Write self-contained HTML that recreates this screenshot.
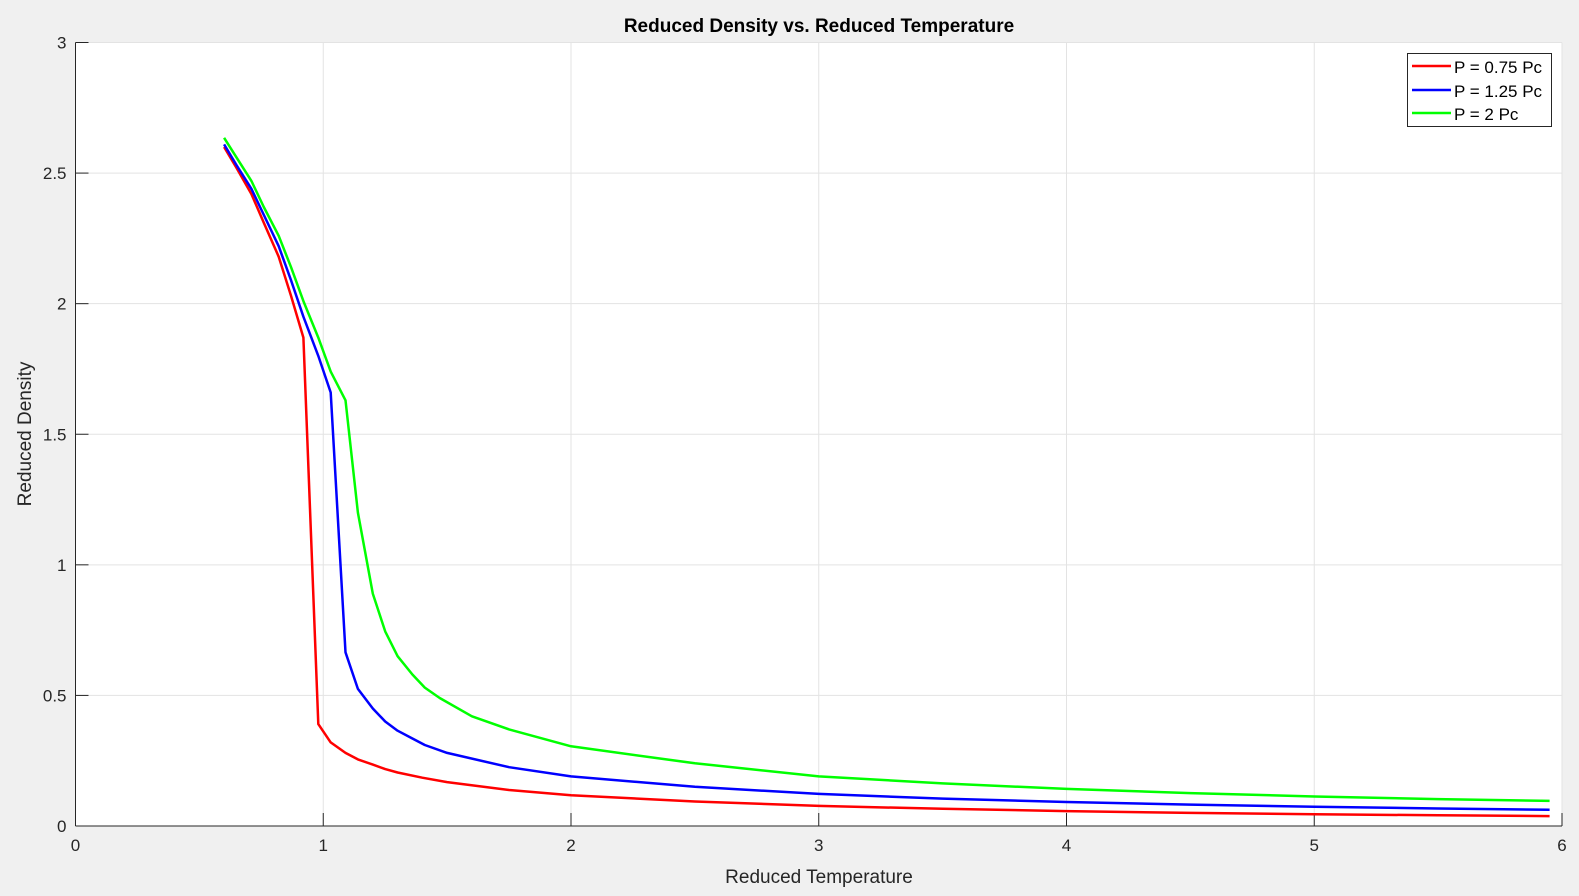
<!DOCTYPE html>
<html><head><meta charset="utf-8"><style>
body{margin:0;background:#f0f0f0;font-family:"Liberation Sans",Arial,sans-serif;}
svg{display:block}
</style></head><body>
<svg id="chart" width="1579" height="896">
<rect width="1579" height="896" fill="#f0f0f0"/>
<rect x="75.5" y="42.5" width="1486.5" height="783.5" fill="#fff"/>
<g id="grid"></g><g id="axes"></g><g id="lines"></g>
<text x="819" y="32" text-anchor="middle" font-size="19" font-weight="bold" fill="#000">Reduced Density vs. Reduced Temperature</text>
<text x="819" y="883" text-anchor="middle" font-size="19" fill="#262626">Reduced Temperature</text>
<text transform="translate(31,434) rotate(-90)" text-anchor="middle" font-size="19" fill="#262626">Reduced Density</text>
<g>
<rect x="1407.5" y="53.5" width="144" height="73" fill="#fff" stroke="#262626" stroke-width="1"/>
<g><line x1="1412" y1="66" x2="1451" y2="66" stroke="#f00" stroke-width="2.5"/><text x="1454" y="73" font-size="17" fill="#000">P = 0.75 Pc</text></g>
<g><line x1="1412" y1="90" x2="1451" y2="90" stroke="#00f" stroke-width="2.5"/><text x="1454" y="97" font-size="17" fill="#000">P = 1.25 Pc</text></g>
<g><line x1="1412" y1="113" x2="1451" y2="113" stroke="#0f0" stroke-width="2.5"/><text x="1454" y="120" font-size="17" fill="#000">P = 2 Pc</text></g>
</g>
</svg>
<script>
const xTicks=[0,1,2,3,4,5,6];
const yTicks=[0,0.5,1,1.5,2,2.5,3];
const xTickLabels=["0","1","2","3","4","5","6"];
const yTickLabels=["0","0.5","1","1.5","2","2.5","3"];
const redT=[0.6,0.65,0.71,0.76,0.82,0.87,0.92,0.98,1.03,1.09,1.14,1.2,1.25,1.3,1.4,1.5,1.75,2,2.5,3,3.5,4,4.5,5,5.5,5.95];
const redD=[2.60,2.52,2.42,2.31,2.18,2.03,1.87,0.39,0.32,0.28,0.255,0.235,0.218,0.205,0.185,0.168,0.138,0.118,0.094,0.077,0.066,0.057,0.05,0.045,0.041,0.038];
const blueT=[0.6,0.65,0.71,0.76,0.82,0.87,0.92,0.98,1.03,1.09,1.14,1.2,1.25,1.3,1.36,1.41,1.5,1.75,2,2.5,3,3.5,4,4.5,5,5.5,5.95];
const blueD=[2.61,2.53,2.44,2.34,2.22,2.09,1.95,1.80,1.66,0.665,0.525,0.45,0.40,0.365,0.335,0.31,0.28,0.225,0.19,0.15,0.123,0.105,0.092,0.082,0.074,0.067,0.062];
const greenT=[0.6,0.65,0.71,0.76,0.82,0.87,0.92,0.98,1.03,1.09,1.14,1.2,1.25,1.3,1.36,1.41,1.47,1.6,1.75,2,2.5,3,3.5,4,4.5,5,5.5,5.95];
const greenD=[2.635,2.56,2.47,2.37,2.26,2.14,2.01,1.87,1.74,1.63,1.2,0.89,0.745,0.65,0.58,0.53,0.49,0.42,0.37,0.305,0.24,0.19,0.163,0.142,0.126,0.113,0.103,0.096];
const NS="http://www.w3.org/2000/svg";
const X0=75.5,X1=1562,Y0=826,Y1=42.5;
const sx=v=>X0+(v-0)/(6-0)*(X1-X0);
const sy=v=>Y0-(v-0)/(3-0)*(Y0-Y1);
function mk(tag,attrs,parent){const e=document.createElementNS(NS,tag);for(const k in attrs)e.setAttribute(k,attrs[k]);parent.appendChild(e);return e;}
const grid=document.getElementById('grid'),axes=document.getElementById('axes'),lines=document.getElementById('lines');
xTicks.forEach((t,i)=>{
 const g=mk('line',{x1:sx(t),x2:sx(t),y1:Y1,y2:Y0,stroke:'#e3e3e3','stroke-width':1},grid);
 
 
 const tk=mk('line',{x1:sx(t),x2:sx(t),y1:Y0,y2:Y0-13,stroke:'#262626'},axes);
 
 
 const tx=mk('text',{x:sx(t),y:Y0+25,'text-anchor':'middle','font-size':17,fill:'#262626'},axes);
 tx.textContent=xTickLabels[i];
 
 
});
yTicks.forEach((t,i)=>{
 const g=mk('line',{x1:X0,x2:X1,y1:sy(t),y2:sy(t),stroke:'#e3e3e3','stroke-width':1},grid);
 
 
 const tk=mk('line',{x1:X0,x2:X0+13,y1:sy(t),y2:sy(t),stroke:'#262626'},axes);
 
 
 const tx=mk('text',{x:X0-9,y:sy(t)+6,'text-anchor':'end','font-size':17,fill:'#262626'},axes);
 tx.textContent=yTickLabels[i];
 
 
});
const xa=mk('line',{x1:X0,x2:X1,y1:Y0,y2:Y0,stroke:'#262626','stroke-width':1},axes);


const ya=mk('line',{x1:X0,x2:X0,y1:Y1,y2:Y0,stroke:'#262626','stroke-width':1},axes);


[[redT,redD,'#ff0000','series-p075'],[blueT,blueD,'#0000ff','series-p125'],[greenT,greenD,'#00ff00','series-p2']].forEach(s=>{
 const d=s[0].map((t,i)=>(i?'L':'M')+sx(t).toFixed(1)+','+sy(s[1][i]).toFixed(1)).join('');
 const p=mk('path',{d:d,fill:'none',stroke:s[2],'stroke-width':2.5,'stroke-linejoin':'round'},lines);
 
 
});
</script>
</body></html>
